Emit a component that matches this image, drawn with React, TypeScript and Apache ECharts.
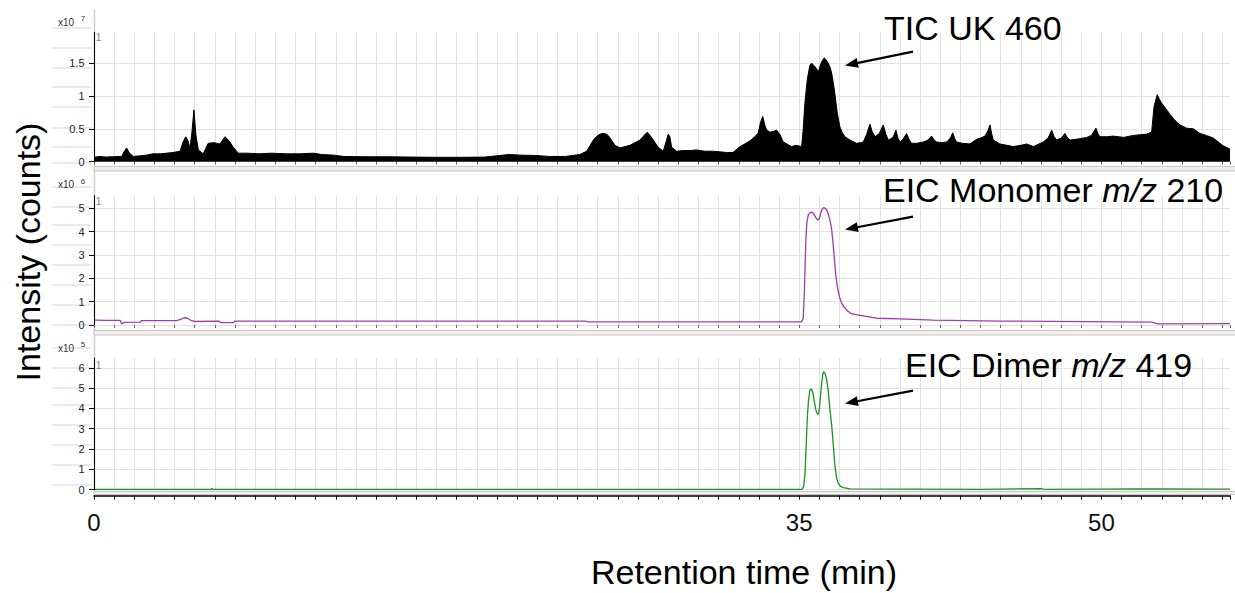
import { useEffect, useRef } from "react";
import * as echarts from "echarts";

// Retention time axis (minutes)
const X_MAX = 56.38;
const TIME_LABELS = [0, 35, 50];

// Total ion chromatogram, intensity in units of 10^7 counts: [time, intensity]
const ticTrace: [number, number][] = [
  [0.05, 0.07], [0.3, 0.08], [0.6, 0.07], [0.9, 0.075], [1.2, 0.08], [1.37, 0.08],
  [1.49, 0.15], [1.62, 0.21], [1.74, 0.14], [1.94, 0.08], [2.3, 0.09], [2.6, 0.1],
  [2.93, 0.12], [3.3, 0.12], [3.6, 0.13], [3.92, 0.14], [4.27, 0.16], [4.42, 0.3],
  [4.55, 0.38], [4.67, 0.32], [4.76, 0.2], [4.86, 0.45], [4.96, 0.79], [5.06, 0.4],
  [5.18, 0.18], [5.42, 0.12], [5.67, 0.28], [5.96, 0.29], [6.25, 0.27], [6.5, 0.38],
  [6.7, 0.32], [6.91, 0.22], [7.16, 0.13], [7.58, 0.13], [8.2, 0.12], [8.8, 0.13],
  [9.5, 0.12], [10.2, 0.12], [10.9, 0.13], [11.3, 0.11], [11.9, 0.1], [12.4, 0.08],
  [13.5, 0.075], [14.6, 0.075], [15.8, 0.07], [17.0, 0.067], [18.2, 0.067], [19.4, 0.07],
  [20.0, 0.09], [20.6, 0.11], [21.2, 0.1], [21.9, 0.095], [22.6, 0.08], [23.4, 0.08],
  [24.12, 0.11], [24.45, 0.16], [24.78, 0.33], [25.0, 0.4], [25.2, 0.43], [25.35, 0.43],
  [25.52, 0.4], [25.7, 0.32], [25.86, 0.25], [26.1, 0.21], [26.35, 0.23], [26.6, 0.25],
  [26.85, 0.29], [27.1, 0.33], [27.3, 0.4], [27.46, 0.45], [27.6, 0.4], [27.76, 0.33],
  [28.0, 0.22], [28.25, 0.16], [28.39, 0.3], [28.5, 0.42], [28.58, 0.38], [28.67, 0.22],
  [28.92, 0.16], [29.25, 0.17], [29.58, 0.17], [29.9, 0.18], [30.3, 0.16], [30.7, 0.16],
  [31.07, 0.15], [31.4, 0.14], [31.71, 0.14], [32.06, 0.23], [32.3, 0.27], [32.56, 0.32],
  [32.8, 0.38], [32.97, 0.44], [33.08, 0.6], [33.19, 0.69], [33.3, 0.55], [33.39, 0.48],
  [33.55, 0.45], [33.7, 0.46], [33.88, 0.48], [34.05, 0.41], [34.21, 0.3], [34.39, 0.27],
  [34.62, 0.23], [34.84, 0.25], [35.12, 0.23], [35.2, 0.5], [35.28, 0.89], [35.4, 1.25],
  [35.53, 1.47], [35.62, 1.5], [35.7, 1.47], [35.78, 1.45], [35.95, 1.37], [36.03, 1.45],
  [36.11, 1.52], [36.24, 1.58], [36.34, 1.55], [36.44, 1.5], [36.53, 1.44], [36.61, 1.35],
  [36.69, 1.2], [36.77, 1.04], [36.89, 0.74], [37.02, 0.53], [37.14, 0.44], [37.27, 0.38],
  [37.52, 0.33], [37.85, 0.28], [38.05, 0.29], [38.18, 0.3], [38.35, 0.42], [38.51, 0.57],
  [38.62, 0.46], [38.76, 0.38], [38.97, 0.43], [39.08, 0.5], [39.17, 0.56], [39.3, 0.42],
  [39.42, 0.33], [39.55, 0.35], [39.67, 0.38], [39.8, 0.48], [39.9, 0.36], [40.0, 0.3],
  [40.15, 0.34], [40.33, 0.43], [40.45, 0.34], [40.58, 0.28], [40.83, 0.28], [41.16, 0.3],
  [41.4, 0.33], [41.57, 0.39], [41.7, 0.33], [41.82, 0.3], [42.05, 0.29], [42.32, 0.3],
  [42.5, 0.36], [42.62, 0.44], [42.72, 0.35], [42.81, 0.3], [43.1, 0.28], [43.47, 0.27],
  [43.65, 0.31], [43.81, 0.34], [44.0, 0.36], [44.22, 0.39], [44.38, 0.48], [44.47, 0.56],
  [44.55, 0.43], [44.63, 0.33], [44.96, 0.27], [45.3, 0.25], [45.62, 0.23], [46.0, 0.25],
  [46.29, 0.27], [46.62, 0.23], [46.9, 0.27], [47.11, 0.3], [47.35, 0.36], [47.53, 0.48],
  [47.65, 0.38], [47.78, 0.33], [48.0, 0.36], [48.19, 0.43], [48.3, 0.37], [48.44, 0.33],
  [48.7, 0.34], [48.93, 0.35], [49.1, 0.36], [49.27, 0.37], [49.5, 0.4], [49.73, 0.51],
  [49.83, 0.42], [49.93, 0.38], [50.25, 0.38], [50.59, 0.39], [51.1, 0.37], [51.58, 0.4],
  [51.9, 0.41], [52.24, 0.42], [52.49, 0.45], [52.61, 0.84], [52.77, 1.02], [52.88, 0.95],
  [52.99, 0.89], [53.24, 0.79], [53.4, 0.72], [53.56, 0.66], [53.75, 0.6], [53.9, 0.56],
  [54.23, 0.51], [54.56, 0.5], [54.89, 0.43], [55.2, 0.4], [55.55, 0.36], [55.8, 0.3],
  [56.0, 0.25], [56.38, 0.19],
];

// Extracted ion chromatogram m/z 210, units of 10^6 counts
const monomerTrace: [number, number][] = [
  [0.05, 0.21], [0.6, 0.2], [1.3, 0.2], [1.37, 0.05], [1.5, 0.11], [2.3, 0.12],
  [2.35, 0.19], [4.1, 0.19], [4.3, 0.24], [4.45, 0.3], [4.55, 0.31], [4.68, 0.27],
  [4.8, 0.2], [5.0, 0.15], [6.2, 0.17], [6.3, 0.1], [6.9, 0.1], [7.0, 0.17],
  [24.4, 0.17], [24.5, 0.13], [35.12, 0.13], [35.2, 0.3], [35.26, 1.5], [35.3, 2.8],
  [35.34, 3.8], [35.38, 4.4], [35.45, 4.72], [35.53, 4.82], [35.62, 4.84], [35.72, 4.76],
  [35.82, 4.6], [35.92, 4.5], [36.0, 4.56], [36.07, 4.8], [36.15, 4.98], [36.22, 5.03],
  [36.3, 5.0], [36.38, 4.9], [36.46, 4.7], [36.54, 4.45], [36.61, 4.1], [36.68, 3.5],
  [36.75, 2.8], [36.82, 2.1], [36.9, 1.6], [37.0, 1.2], [37.1, 0.95], [37.22, 0.78],
  [37.38, 0.62], [37.55, 0.5], [37.8, 0.44], [38.18, 0.39], [38.84, 0.29], [40.0, 0.26],
  [41.64, 0.21], [44.96, 0.17], [52.5, 0.12], [52.8, 0.05], [56.38, 0.06],
];

// Extracted ion chromatogram m/z 419, units of 10^5 counts
const dimerTrace: [number, number][] = [
  [0.05, 0.02], [5.8, 0.02], [5.85, 0.06], [5.9, 0.02], [35.14, 0.02], [35.22, 0.15],
  [35.29, 0.8], [35.35, 2.3], [35.4, 3.5], [35.46, 4.4], [35.53, 4.9], [35.6, 4.95],
  [35.67, 4.8], [35.74, 4.4], [35.82, 3.95], [35.9, 3.72], [35.97, 3.75], [36.03, 4.3],
  [36.1, 5.1], [36.17, 5.7], [36.22, 5.8], [36.29, 5.7], [36.36, 5.45], [36.44, 4.85],
  [36.52, 4.0], [36.61, 3.18], [36.69, 2.2], [36.77, 1.21], [36.85, 0.6], [36.94, 0.31],
  [37.05, 0.16], [37.19, 0.1], [37.52, 0.04], [40.5, 0.03], [44.0, 0.02], [47.0, 0.05],
  [47.2, 0.02], [52.0, 0.04], [56.38, 0.03],
];

const FONT = "'Liberation Sans', Arial, sans-serif";

// Panel layout (pixels) and y scale of each stacked trace
const panels = [
  { top: 32.3, height: 129.4, yMax: 1.97, step: 0.5, exp: "7", expY: 22, traceY: 37 },
  { top: 195.7, height: 129.3, yMax: 5.54, step: 1, exp: "6", expY: 184.5, traceY: 201 },
  { top: 358, height: 131.7, yMax: 6.48, step: 1, exp: "5", expY: 348, traceY: 365 },
];

// Faint row rules left of the intensity axes
const ruleRows = [28, 48, 68, 87, 107, 128, 147, 163, 187, 207, 225, 245, 265, 285, 305, 325, 348, 368, 388, 405, 425, 445, 465, 485];

const annotations = [
  { text: "{n|TIC UK 460}", x: 884, y: 28, tail: [913, 51.7], tip: [845, 65.5] },
  { text: "{n|EIC Monomer }{i|m/z}{n| 210}", x: 883, y: 190, tail: [913, 216.7], tip: [845, 229.5] },
  { text: "{n|EIC Dimer }{i|m/z}{n| 419}", x: 905, y: 365, tail: [913, 390.7], tip: [845, 403.5] },
];

const TOP_Z = 100;

function arrow(tail: number[], tip: number[]) {
  const dx = tip[0] - tail[0];
  const dy = tip[1] - tail[1];
  const len = Math.hypot(dx, dy);
  const ux = dx / len;
  const uy = dy / len;
  const head = 13;
  const half = 5;
  const bx = tip[0] - ux * head;
  const by = tip[1] - uy * head;
  return [
    {
      type: "line",
      z: TOP_Z,
      shape: { x1: tail[0], y1: tail[1], x2: bx + ux * 2, y2: by + uy * 2 },
      style: { stroke: "#000", lineWidth: 2.2 },
    },
    {
      type: "polygon",
      z: TOP_Z,
      shape: {
        points: [
          [tip[0], tip[1]],
          [bx - uy * half, by + ux * half],
          [bx + uy * half, by - ux * half],
        ],
      },
      style: { fill: "#000" },
    },
  ];
}

export default function App() {
  const ref = useRef<HTMLDivElement>(null);

  useEffect(() => {
    if (!ref.current) return;
    const chart = echarts.init(ref.current, null, { renderer: "svg" });

    const graphic: any[] = [];
    // panel frames
    graphic.push({
      type: "line",
      shape: { x1: 94.5, y1: 10, x2: 94.5, y2: 494 },
      style: { stroke: "#cfcdc8", lineWidth: 1.5 },
    });
    [166.5, 330.5].forEach((y) =>
      graphic.push({
        type: "rect",
        shape: { x: 94, y, width: 1145, height: 4.5 },
        style: { fill: "#f1f0ee", stroke: "#c9c7c2", lineWidth: 1 },
      })
    );
    graphic.push({
      type: "rect",
      shape: { x: 94, y: 491.5, width: 1145, height: 3 },
      style: { fill: "#f1f0ee", stroke: "#c9c7c2", lineWidth: 1 },
    });
    ruleRows.forEach((y) =>
      graphic.push({
        type: "line",
        shape: { x1: 52, y1: y, x2: 91, y2: y },
        style: { stroke: "#d3d3ec", lineWidth: 1 },
      })
    );
    panels.forEach((p) => {
      graphic.push({
        type: "text",
        z: TOP_Z,
        x: 66,
        y: p.expY,
        style: { text: "x10", fontSize: 10, fontFamily: FONT, fill: "#333", align: "center", verticalAlign: "middle" },
      });
      graphic.push({
        type: "text",
        z: TOP_Z,
        x: 83,
        y: p.expY - 3.5,
        style: { text: p.exp, fontSize: 8, fontFamily: FONT, fill: "#333", align: "center", verticalAlign: "middle" },
      });
      graphic.push({
        type: "text",
        z: TOP_Z,
        x: 98.5,
        y: p.traceY,
        style: { text: "1", fontSize: 11, fontFamily: FONT, fill: "#8a8a8a", align: "center", verticalAlign: "middle" },
      });
    });
    annotations.forEach((a) => {
      graphic.push({
        type: "text",
        z: TOP_Z,
        x: a.x,
        y: a.y,
        style: {
          text: a.text,
          fill: "#000",
          align: "left",
          verticalAlign: "middle",
          rich: {
            n: { fontSize: 34, fontFamily: FONT, fill: "#000" },
            i: { fontSize: 34, fontFamily: FONT, fontStyle: "italic", fill: "#000" },
          },
        },
      });
      graphic.push(...arrow(a.tail, a.tip));
    });
    graphic.push({
      type: "text",
      z: TOP_Z,
      x: 28,
      y: 252,
      rotation: Math.PI / 2,
      style: { text: "Intensity (counts)", fontSize: 34, fontFamily: FONT, fill: "#000", align: "center", verticalAlign: "middle" },
    });
    graphic.push({
      type: "text",
      z: TOP_Z,
      x: 744,
      y: 572,
      style: { text: "Retention time (min)", fontSize: 34, fontFamily: FONT, fill: "#000", align: "center", verticalAlign: "middle" },
    });

    const grid = panels.map((p) => ({
      left: 94,
      width: 1136,
      top: p.top,
      height: p.height,
      outerBoundsMode: "none",
    }));

    const xAxis = panels.map((_, i) => ({
      gridIndex: i,
      type: "value",
      min: 0,
      max: X_MAX,
      interval: 1,
      offset: i === 2 ? 6 : 0,
      axisLine: { show: i === 2, onZero: false, lineStyle: { color: "#000", width: 1.5 } },
      axisTick: { show: true, length: i === 2 ? 4 : 3, lineStyle: { color: i === 2 ? "#000" : "#666" } },
      axisLabel: {
        show: i === 2,
        customValues: TIME_LABELS,
        fontSize: 24,
        fontFamily: FONT,
        color: "#111",
        margin: 15,
      },
      splitLine: { show: true, showMinLine: false, showMaxLine: false, lineStyle: { color: "#e2e2e2", width: 1 } },
    }));

    const yAxis = panels.map((p, i) => ({
      gridIndex: i,
      type: "value",
      min: 0,
      max: p.yMax,
      interval: p.step,
      offset: 2.5,
      axisLine: { show: true, lineStyle: { color: "#000", width: 1 } },
      axisTick: { show: true, length: 5, lineStyle: { color: "#000" } },
      axisLabel: {
        fontSize: 11,
        fontFamily: FONT,
        color: "#222",
        margin: 7,
        showMaxLabel: false,
      },
      splitLine: { show: true, showMaxLine: false, lineStyle: { color: "#e2e2e2", width: 1 } },
    }));

    chart.setOption({
      animation: false,
      backgroundColor: "#fff",
      grid,
      xAxis,
      yAxis,
      graphic,
      series: [
        {
          type: "line",
          xAxisIndex: 0,
          yAxisIndex: 0,
          data: ticTrace,
          symbol: "none",
          lineStyle: { color: "#000", width: 1 },
          areaStyle: { color: "#000", opacity: 1 },
        },
        {
          type: "line",
          xAxisIndex: 1,
          yAxisIndex: 1,
          data: monomerTrace,
          symbol: "none",
          lineStyle: { color: "#a03caa", width: 1.3 },
        },
        {
          type: "line",
          xAxisIndex: 2,
          yAxisIndex: 2,
          data: dimerTrace,
          symbol: "none",
          lineStyle: { color: "#1c921c", width: 1.3 },
        },
      ],
    });

    return () => chart.dispose();
  }, []);

  return (
    <div
      ref={ref}
      style={{ position: "fixed", left: 0, top: 0, width: 1235, height: 593, background: "#fff" }}
    />
  );
}
